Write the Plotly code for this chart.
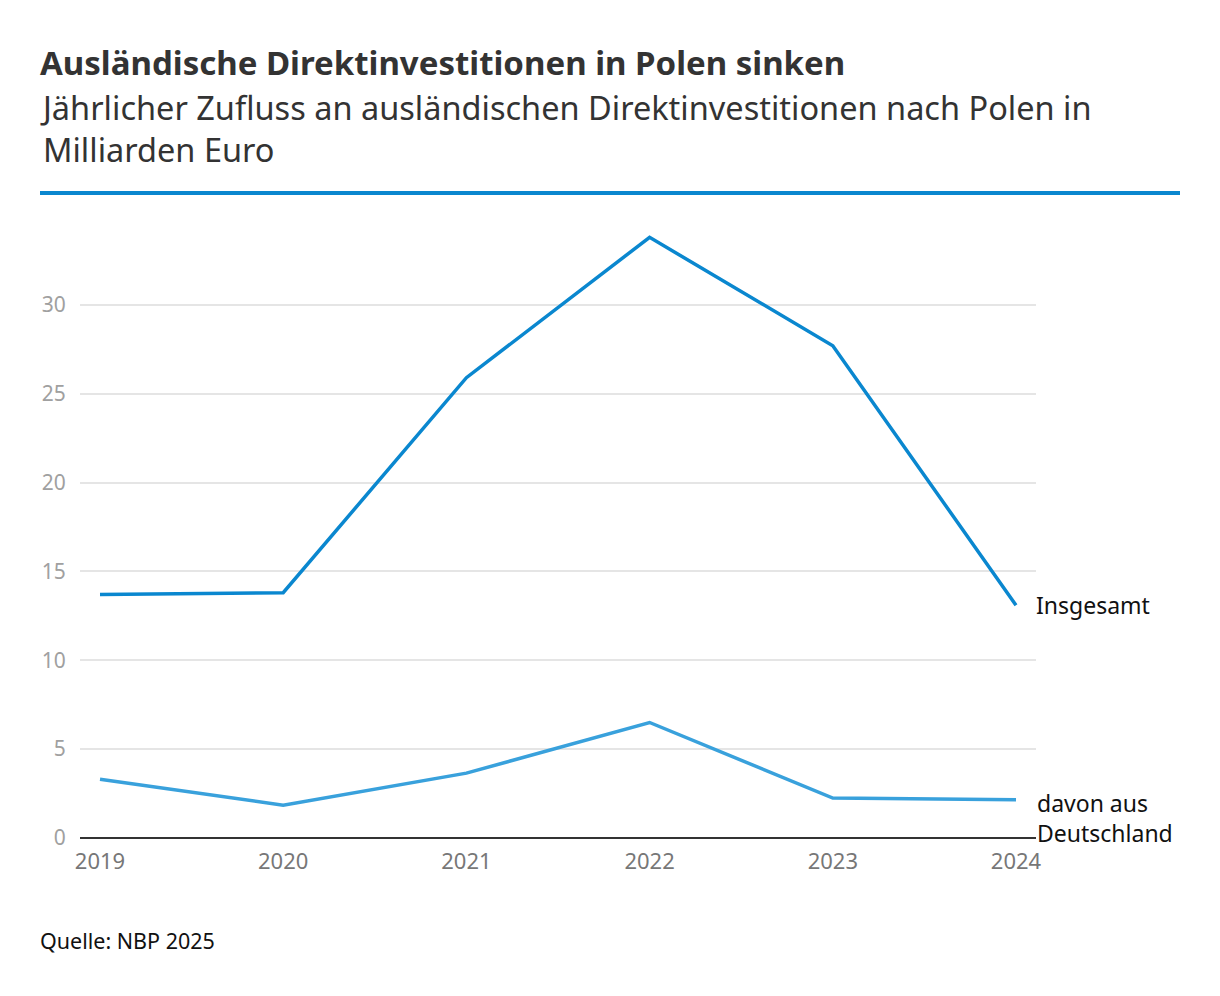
import plotly.graph_objects as go

years = [2019, 2020, 2021, 2022, 2023, 2024]
insgesamt = [13.7, 13.8, 25.9, 33.8, 27.7, 13.1]
deutschland = [3.3, 1.85, 3.65, 6.5, 2.25, 2.15]
y_ticks = [0, 5, 10, 15, 20, 25, 30]
x_ticks = years

FONT = "Noto Sans"
W, H = 1220, 996
OFF = 8  # page body offset
# target page-pixel plot box: x 80..1036, y 216..838
L = 80 - OFF
T = 216 - OFF
R = W - (1036 - OFF)
B = H - (838 - OFF)

fig = go.Figure()
fig.add_trace(go.Scatter(x=years, y=insgesamt, mode="lines",
                         line=dict(color="#0a87cf", width=3.5), hoverinfo="skip"))
fig.add_trace(go.Scatter(x=years, y=deutschland, mode="lines",
                         line=dict(color="#39a1dc", width=3.5), hoverinfo="skip"))

fig.update_layout(
    width=W, height=H,
    margin=dict(l=L, r=R, t=T, b=B),
    paper_bgcolor="white", plot_bgcolor="white",
    showlegend=False,
    xaxis=dict(range=[2019 - 20 / 183.2, 2024 + 20 / 183.2], tickvals=x_ticks,
               ticktext=[str(v) for v in x_ticks], showgrid=False, zeroline=False,
               showline=False, ticks="outside", ticklen=4, tickcolor="rgba(0,0,0,0)",
               tickfont=dict(family=FONT, size=22, color="#777")),
    yaxis=dict(range=[0, 35], tickvals=y_ticks, showgrid=True, gridcolor="#e5e5e5", gridwidth=1.5,
               zeroline=True, zerolinecolor="#333", zerolinewidth=2,
               showline=False, ticks="outside", ticklen=9, tickcolor="rgba(0,0,0,0)",
               tickfont=dict(family=FONT, size=21, color="#a0a0a0")),
    font=dict(family=FONT),
)

pw = W - L - R
ph = H - T - B
def to_px(xp, yp):
    # page pixel -> paper coords
    return (xp - OFF - L) / pw, (H - B - (yp - OFF)) / ph

annots = [
    dict(x=years[-1], y=insgesamt[-1], xref="x", yref="y",
         text="Insgesamt", showarrow=False, xanchor="left", yanchor="middle",
         xshift=18, font=dict(family=FONT, size=23, color="#111")),
]
for text, xp, yp, size, bold, col in [
    ("Ausländische Direktinvestitionen in Polen sinken", 40, 62, 33, True, "#333"),
    ("Jährlicher Zufluss an ausländischen Direktinvestitionen nach Polen in<br>Milliarden Euro", 40, 128, 32.5, False, "#333"),
    ("davon aus<br>Deutschland", 1037, 818, 23, False, "#111"),
    ("Quelle: NBP 2025", 40, 940, 21.5, False, "#111"),
]:
    xx, yy = to_px(xp, yp)
    annots.append(dict(x=xx, y=yy, xref="paper", yref="paper",
                       text=f"<b>{text}</b>" if bold else text, showarrow=False,
                       xanchor="left", yanchor="middle", align="left", xshift=-2,
                       font=dict(family=FONT, size=size, color=col)))
fig.layout.annotations = annots

x0, yb = to_px(40, 193)
x1, _ = to_px(1180, 193)
fig.add_shape(type="line", xref="paper", yref="paper", x0=x0, x1=x1, y0=yb, y1=yb,
              line=dict(color="#0a87cf", width=4))

fig.write_html("out.html")
